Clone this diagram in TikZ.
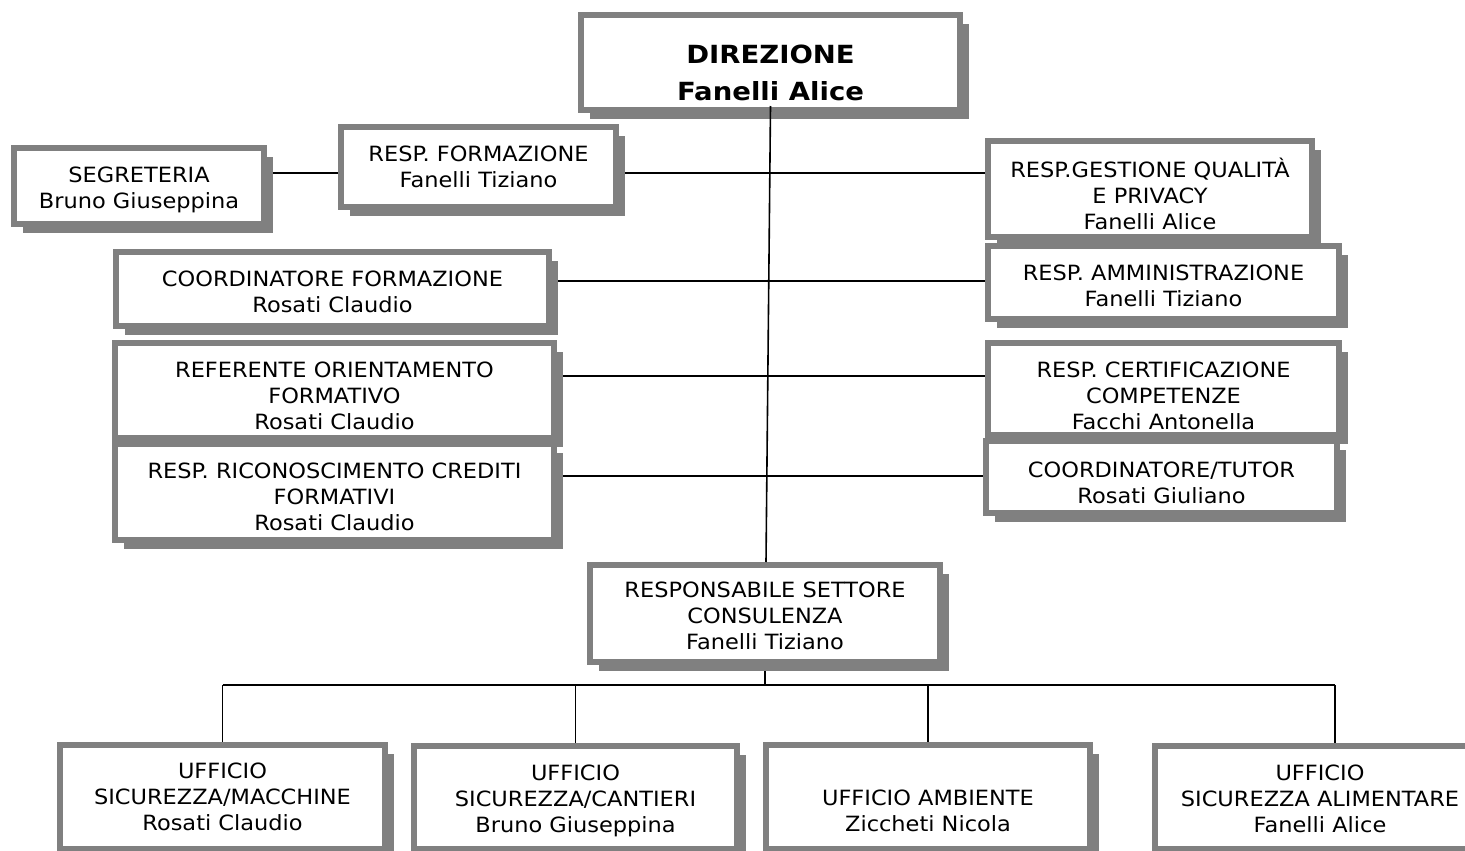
\documentclass[tikz,border=0pt]{standalone}
\usepackage{fontspec}
\setmainfont{DejaVu Sans}[FakeStretch=1.07]
\newfontfamily\titlefont{DejaVu Sans}[FakeStretch=1.1]
\usetikzlibrary{shadows,calc}
\pgfdeclarelayer{bg}
\pgfsetlayers{bg,main}
\definecolor{framegray}{HTML}{808080}
\tikzset{
  box/.style={draw=framegray, line width=6pt, fill=white, inner xsep=0pt, inner ysep=0pt,
    outer sep=0pt, align=center, font=\fontsize{21}{26}\selectfont,
    drop shadow={shadow xshift=9pt, shadow yshift=-9pt, fill=framegray, opacity=1}},
  titlebox/.style={font=\titlefont\bfseries\fontsize{25}{37}\selectfont},
  link/.style={line width=1.6pt, black}
}
% \obox[opts]{name}{x1}{y1}{x2}{y2}{last baseline below path top}{text}
\newcommand\obox[8][]{%
  \pgfmathsetmacro\bw{#5-#3-6}%
  \pgfmathsetmacro\bcx{(#3+#5)/2}%
  \pgfmathsetmacro\bty{#4+3}%
  \pgfmathsetmacro\bd{#6-#4-6-#7}%
  \node[box, anchor=north, minimum width=\bw pt, text height=#7pt, text depth=\bd pt, #1] (#2) at (\bcx,\bty) {#8};}
\begin{document}
\begin{tikzpicture}[x=1pt,y=-1pt]
\useasboundingbox (0,0) rectangle (1465,851);
% boxes
\obox[titlebox]{dir}{578}{12}{963}{113}{85}{DIREZIONE\\Fanelli Alice}
\obox{seg}{11}{145}{267}{227}{60}{SEGRETERIA\\Bruno Giuseppina}
\obox{rf}{338}{124}{619}{210}{60}{RESP. FORMAZIONE\\Fanelli Tiziano}
\obox{gq}{985}{138}{1315}{240}{88}{RESP.GESTIONE QUALITÀ\\E PRIVACY\\Fanelli Alice}
\obox{amm}{985}{243}{1342}{322}{60}{RESP. AMMINISTRAZIONE\\Fanelli Tiziano}
\obox{cf}{113}{249}{552}{329}{60}{COORDINATORE FORMAZIONE\\Rosati Claudio}
\obox{ro}{112}{340}{557}{441}{86}{REFERENTE ORIENTAMENTO\\FORMATIVO\\Rosati Claudio}
\obox{rc}{112}{441}{557}{543}{86}{RESP. RICONOSCIMENTO CREDITI\\FORMATIVI\\Rosati Claudio}
\obox{ce}{985}{340}{1342}{438}{86}{RESP. CERTIFICAZIONE\\COMPETENZE\\Facchi Antonella}
\obox{tu}{983}{438}{1340}{516}{62}{COORDINATORE/TUTOR\\Rosati Giuliano}
\obox{rs}{587}{562}{943}{665}{84}{RESPONSABILE SETTORE\\CONSULENZA\\Fanelli Tiziano}
\obox{u1}{57}{742}{388}{852}{85}{UFFICIO\\SICUREZZA/MACCHINE\\Rosati Claudio}
\obox{u2}{411}{743}{740}{852}{86}{UFFICIO\\SICUREZZA/CANTIERI\\Bruno Giuseppina}
\obox{u3}{763}{742}{1093}{852}{86}{UFFICIO AMBIENTE\\Ziccheti Nicola}
\obox{u4}{1152}{743}{1488}{852}{86}{UFFICIO\\SICUREZZA ALIMENTARE\\Fanelli Alice}
% helper coordinates
\coordinate (h173) at (0,173);
\coordinate (h281) at (0,281);
\coordinate (h376) at (0,376);
\coordinate (h476) at (0,476);
\coordinate (hub) at (0,685);
\coordinate (u4top) at ([xshift=15pt]u4.north);
% connectors
\begin{pgfonlayer}{bg}
\draw[link] (seg.east |- h173) -- (rf.west |- h173);
\draw[link] (rf.east |- h173) -- (gq.west |- h173);
\draw[link] (cf.east |- h281) -- (amm.west |- h281);
\draw[link] (ro.east |- h376) -- (ce.west |- h376);
\draw[link] (rc.east |- h476) -- (tu.west |- h476);
\draw[link] (rs.south) -- (rs.south |- hub);
\draw[link] (u1.north |- hub) -- (u4top |- hub);
\draw[link] (u1.north |- hub) -- (u1.north);
\draw[link] (u2.north |- hub) -- (u2.north);
\draw[link] (u3.north |- hub) -- (u3.north);
\draw[link] (u4top |- hub) -- (u4top);
\end{pgfonlayer}
\draw[link] ([yshift=4pt]dir.south) -- ([xshift=1pt,yshift=3pt]rs.north);
\end{tikzpicture}
\end{document}
